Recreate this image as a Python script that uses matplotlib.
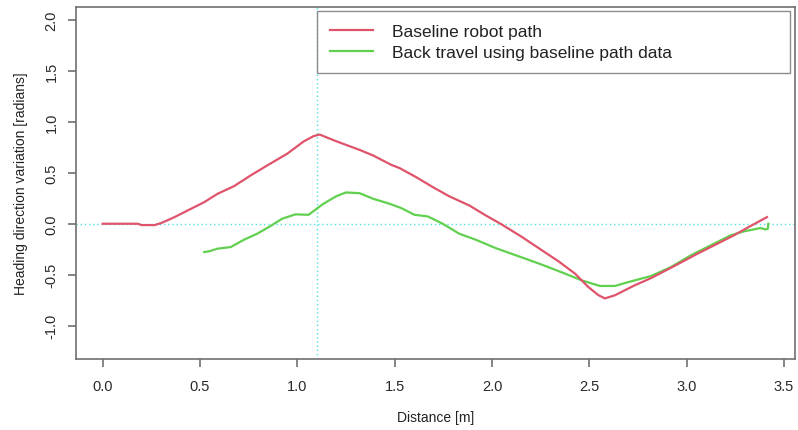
import matplotlib
matplotlib.use('agg')
import matplotlib.pyplot as plt
import numpy as np

plt.rcParams['font.family'] = ['Liberation Sans', 'DejaVu Sans']

# baseline robot path
base_x = [0.0, 0.18, 0.2, 0.267, 0.30, 0.369, 0.454, 0.522, 0.59, 0.675, 0.76,
          0.845, 0.947, 1.032, 1.083, 1.114, 1.2, 1.32, 1.39, 1.483, 1.526,
          1.611, 1.696, 1.78, 1.883, 1.968, 2.053, 2.155, 2.257, 2.342, 2.427,
          2.495, 2.546, 2.58, 2.631, 2.682, 2.733, 2.818, 2.937, 3.056, 3.158,
          3.243, 3.328, 3.413]
base_y = [0.0, 0.0, -0.013, -0.013, 0.006, 0.065, 0.147, 0.212, 0.294, 0.369,
          0.474, 0.572, 0.686, 0.807, 0.86, 0.876, 0.81, 0.725, 0.67, 0.578,
          0.546, 0.457, 0.36, 0.27, 0.18, 0.082, -0.01, -0.131, -0.261, -0.369,
          -0.49, -0.621, -0.70, -0.733, -0.703, -0.654, -0.605, -0.533, -0.415,
          -0.294, -0.196, -0.114, -0.023, 0.065]

# back travel
back_x = [0.522, 0.548, 0.59, 0.658, 0.726, 0.794, 0.862, 0.922, 0.99, 1.058,
          1.134, 1.2, 1.25, 1.32, 1.39, 1.474, 1.534, 1.602, 1.67, 1.747,
          1.832, 1.917, 2.019, 2.138, 2.257, 2.376, 2.461, 2.555, 2.631, 2.716,
          2.818, 2.92, 3.022, 3.124, 3.226, 3.294, 3.345, 3.379, 3.405, 3.417,
          3.42]
back_y = [-0.278, -0.27, -0.245, -0.229, -0.157, -0.098, -0.023, 0.049, 0.092,
          0.088, 0.196, 0.27, 0.307, 0.30, 0.245, 0.196, 0.154, 0.088, 0.072,
          0.0, -0.098, -0.157, -0.239, -0.32, -0.402, -0.49, -0.556, -0.611,
          -0.611, -0.565, -0.513, -0.425, -0.31, -0.212, -0.114, -0.075,
          -0.056, -0.042, -0.056, -0.05, 0.0]

labels = ['Baseline robot path', 'Back travel using baseline path data']
ref_x = 1.1

axcol = '#707070'

fig = plt.figure(figsize=(7.98, 4.31), dpi=100)
ax = fig.add_axes([76/798, 71/431, 719/798, 352/431])

ax.axvline(ref_x, color='#4fe3e8', lw=1, ls=(0, (1, 2)), zorder=1)
ax.axhline(0, color='#4fe3e8', lw=1, ls=(0, (1, 2)), zorder=1)
ax.plot(base_x, base_y, color='#DF536B', lw=1.6, label=labels[0], zorder=3)
ax.plot(back_x, back_y, color='#61D04F', lw=1.6, label=labels[1], zorder=2)

ax.set_xlim(-0.137, 3.557)
ax.set_ylim(-1.328, 2.128)
ax.set_xticks(np.arange(0, 3.6, 0.5))
ax.set_yticks(np.arange(-1.0, 2.1, 0.5))
ax.set_xticklabels(['%.1f' % v for v in np.arange(0, 3.6, 0.5)])
ax.set_yticklabels(['%.1f' % v for v in np.arange(-1.0, 2.1, 0.5)],
                   rotation=90, va='center')

for s in ax.spines.values():
    s.set_color(axcol)
    s.set_linewidth(1.2)
ax.tick_params(direction='out', length=5.5, width=1.2, color=axcol,
               labelsize=10.5, labelcolor='#2a2a2a')
ax.tick_params(axis='x', pad=9)
ax.tick_params(axis='y', pad=7)

ax.set_xlabel('Distance [m]', fontsize=10, color='#222222', labelpad=12)
ax.set_ylabel('Heading direction variation [radians]', fontsize=10,
              color='#222222', labelpad=12)

leg = ax.legend(loc='upper left', bbox_to_anchor=(0.335, 0.6, 0.658, 0.389),
                mode='expand', fontsize=12.5, frameon=True, fancybox=False,
                handlelength=2.5, handletextpad=1.1, borderpad=0.75,
                labelspacing=0.35, borderaxespad=0)
leg.get_frame().set_edgecolor(axcol)
leg.get_frame().set_linewidth(1.0)
for t in leg.get_texts():
    t.set_color('#222222')

fig.savefig('out.png', dpi=100)
